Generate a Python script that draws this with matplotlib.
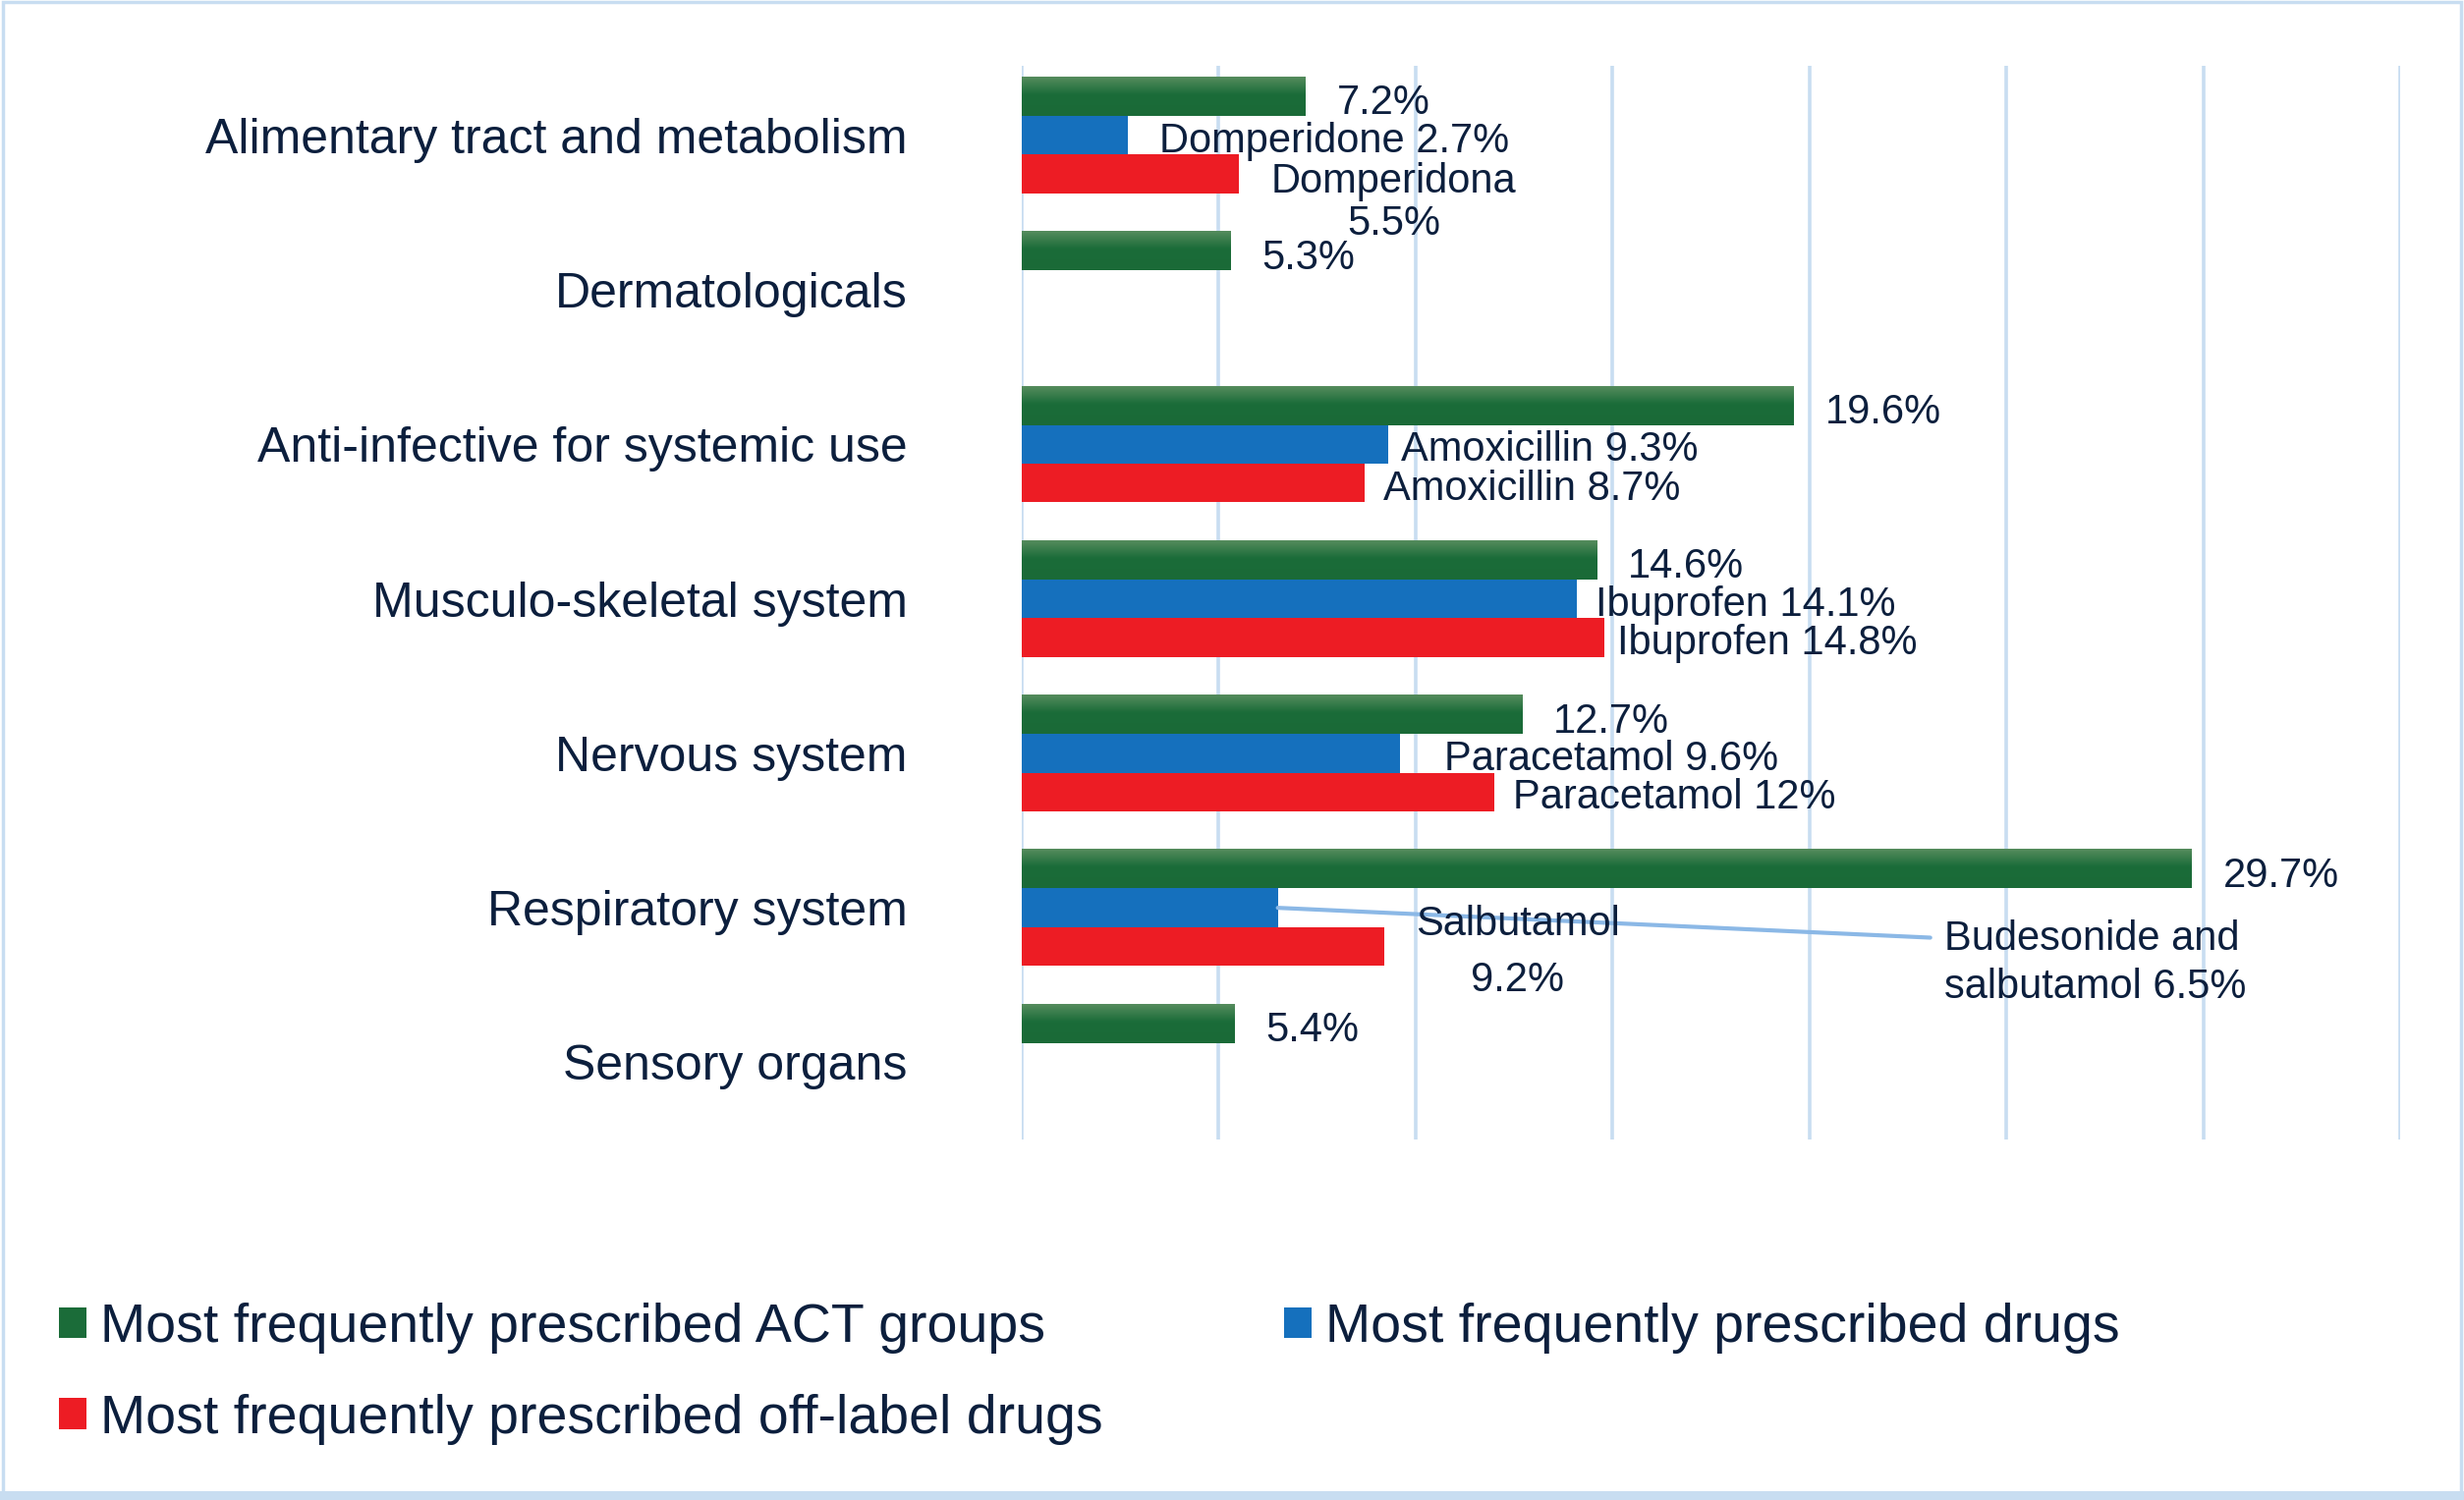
import numpy as np
import matplotlib.pyplot as plt
from matplotlib.patches import Rectangle
from matplotlib.colors import LinearSegmentedColormap

# data
categories = ["Alimentary tract and metabolism", "Dermatologicals",
              "Anti-infective for systemic use", "Musculo-skeletal system",
              "Nervous system", "Respiratory system", "Sensory organs"]
act_groups = [7.2, 5.3, 19.6, 14.6, 12.7, 29.7, 5.4]
top_drugs = [2.7, np.nan, 9.3, 14.1, 9.6, 6.5, np.nan]
top_drug_names = ["Domperidone", None, "Amoxicillin", "Ibuprofen",
                  "Paracetamol", "Budesonide and\nsalbutamol", None]
offlabel_drugs = [5.5, np.nan, 8.7, 14.8, 12.0, 9.2, np.nan]
offlabel_names = ["Domperidona\n", None, "Amoxicillin", "Ibuprofen",
                  "Paracetamol", "Salbutamol\n", None]
series_names = ["Most frequently prescribed ACT groups",
                "Most frequently prescribed drugs",
                "Most frequently prescribed off-label drugs"]

# style
green, blue, red = "#1b6c39", "#1570bd", "#ed1c24"
txt = "#0c1f3d"
gridc = "#c8ddf1"
plt.rcParams['font.family'] = ['Liberation Sans', 'DejaVu Sans']

# label offsets in pixels (dx, dy), dy positive = up
green_off = [(32, -7)] * 7
blue_off = [(32, -6), None, (13, -6), (19, -6), (45, -6), None, None]
red_off = [(158, -29), None, (19, -6), (13, -6), (19, -6), (136, -6), None]


def label(v, name):
    pct = f"{v:g}%"
    if name is None:
        return pct
    return name + pct if name.endswith("\n") else name + " " + pct


fig = plt.figure(figsize=(25.08, 15.27), dpi=100)
ax = fig.add_axes([0.4147, 0.2403, 0.5594, 0.7158])

y = np.arange(len(categories))
h = 0.25
gbars = ax.barh(y - h, act_groups, h, color=green, label=series_names[0], zorder=3)
ax.barh(y, top_drugs, h, color=blue, label=series_names[1], zorder=3)
ax.barh(y + h, offlabel_drugs, h, color=red, label=series_names[2], zorder=3)

# light sheen on top of the green bars
sheen = LinearSegmentedColormap.from_list(
    'sheen', [(0, '#558c5d'), (0.45, '#1b6c39'), (1, '#1a6a37')])
grad = np.linspace(0, 1, 64).reshape(-1, 1)
for p in gbars:
    x0, y0, w, hh = p.get_x(), p.get_y(), p.get_width(), p.get_height()
    ax.imshow(grad, cmap=sheen, extent=(x0, x0 + w, y0 + hh, y0),
              aspect='auto', zorder=3.5, interpolation='bilinear')

ax.set_xlim(0, 35)
ax.set_ylim(6.5, -0.45)
ax.set_xticks(np.arange(0, 36, 5))
ax.grid(axis='x', color=gridc, lw=2.6, zorder=0)
ax.tick_params(axis='x', length=0, labelbottom=False)
ax.set_yticks(y, categories, fontsize=36, color=txt)
ax.tick_params(axis='y', length=0, pad=84)
for s in ax.spines.values():
    s.set_visible(False)

fs = 30
for i in range(len(categories)):
    dx, dy = green_off[i]
    ax.annotate(label(act_groups[i], None), (act_groups[i], y[i] - h),
                xytext=(dx, dy), textcoords='offset pixels',
                ha='left', va='center', fontsize=fs, color=txt, zorder=4)
    if not np.isnan(top_drugs[i]):
        if blue_off[i] is not None:
            dx, dy = blue_off[i]
            ax.annotate(label(top_drugs[i], top_drug_names[i]), (top_drugs[i], y[i]),
                        xytext=(dx, dy), textcoords='offset pixels',
                        ha='left', va='center', fontsize=fs, color=txt, zorder=4)
        else:
            # label with leader line
            ax.annotate(label(top_drugs[i], top_drug_names[i]), (top_drugs[i], y[i]),
                        xytext=(678, -56), textcoords='offset pixels',
                        ha='left', va='center', fontsize=fs, color=txt,
                        linespacing=1.3, zorder=4,
                        arrowprops=dict(arrowstyle='-', color='#8bb8e6', lw=3,
                                        shrinkA=8, shrinkB=0,
                                        relpos=(0, 0.78)))
    if not np.isnan(offlabel_drugs[i]):
        dx, dy = red_off[i]
        multi = offlabel_names[i].endswith("\n")
        ls = 1.52 if i == 5 else 1.1
        ax.annotate(label(offlabel_drugs[i], offlabel_names[i]),
                    (offlabel_drugs[i], y[i] + h),
                    xytext=(dx, dy), textcoords='offset pixels',
                    ha='center' if multi else 'left', va='center',
                    fontsize=fs, color=txt,
                    multialignment='center', linespacing=ls, zorder=4)

handles, labels = ax.get_legend_handles_labels()
order = [0, 2, 1]
fig.legend([handles[k] for k in order], [labels[k] for k in order],
           loc='upper left', bbox_to_anchor=(0.015, 0.146), ncol=2,
           frameon=False, fontsize=40, handlelength=0.5, handleheight=0.5,
           handletextpad=0.25, labelspacing=0.73, columnspacing=3.33,
           borderaxespad=0, labelcolor=txt)

# outer frame
fig.add_artist(Rectangle((0.001, 0.004), 0.998, 0.995, transform=fig.transFigure,
                         fill=False, ec=gridc, lw=2.5))
fig.add_artist(Rectangle((0.0, 0.0), 1.0, 0.006, transform=fig.transFigure,
                         fc=gridc, ec='none'))

fig.savefig("out.png", dpi=100)
